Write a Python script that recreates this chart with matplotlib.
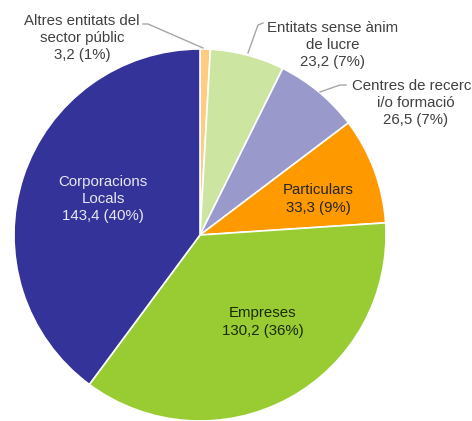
import matplotlib
matplotlib.use("Agg")
import matplotlib.pyplot as plt

categories = ["Altres entitats del\nsector públic", "Entitats sense ànim\nde lucre",
              "Centres de recerca\ni/o formació", "Particulars", "Empreses",
              "Corporacions\nLocals"]
values = [3.2, 23.2, 26.5, 33.3, 130.2, 143.4]
percents = [1, 7, 7, 9, 36, 40]
colors = ["#FFCC80", "#CCE5A0", "#9999CC", "#FF9900", "#99CC33", "#333399"]
text_colors = ["#404040", "#404040", "#404040", "#262626", "#1a2a00", "#E8E8F4"]

W, H = 472, 421
CX, CY, R = 200, 235, 186

fig = plt.figure(figsize=(W / 100, H / 100), dpi=100)
ax = fig.add_axes([(CX - R) / W, (H - CY - R) / H, 2 * R / W, 2 * R / H])

ax.pie(values, colors=colors, startangle=90, counterclock=False, radius=1,
       wedgeprops=dict(edgecolor="white", linewidth=1.2))
ax.set_xlim(-1, 1)
ax.set_ylim(-1, 1)
ax.axis("off")

def d(px, py):
    return ((px - CX) / R, (CY - py) / R)

label_pos = [(82, 38), (333, 45), (416, 103), (318, 199), (263, 322), (103, 199)]
fs = 10.8
for cat, v, p, (px, py), tc in zip(categories, values, percents, label_pos, text_colors):
    txt = f"{cat}\n{str(v).replace('.', ',')} ({p}%)"
    x, y = d(px, py)
    ax.text(x, y, txt, ha="center", va="center", fontsize=fs, color=tc,
            family="Liberation Sans", linespacing=1.3, clip_on=False)

leaders = [
    [(143, 24), (148, 24), (203, 48)],
    [(263, 23), (258, 25), (248, 53)],
    [(346, 85), (340, 85), (320, 92)],
]
for pts in leaders:
    xs, ys = zip(*[d(a, b) for a, b in pts])
    ax.plot(xs, ys, color="#A6A6A6", lw=1, clip_on=False)

fig.savefig("out.png", dpi=100)
